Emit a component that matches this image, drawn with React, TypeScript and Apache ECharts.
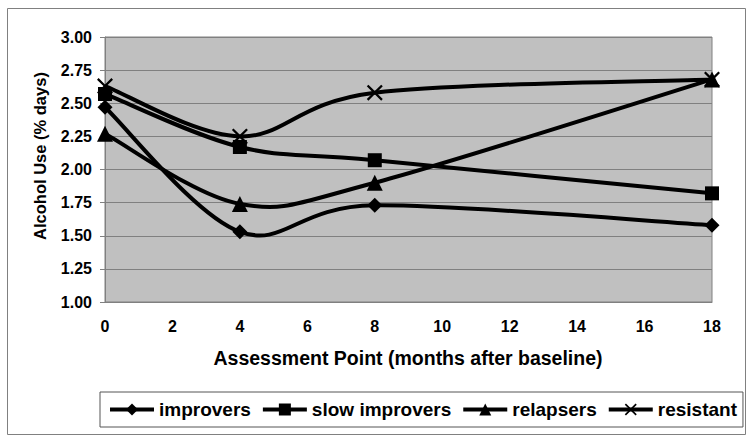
import React, { useEffect, useRef } from "react";
import * as echarts from "echarts";

const months = [0, 4, 8, 18];
const xTicks = [0, 2, 4, 6, 8, 10, 12, 14, 16, 18];
const seriesNames = ["improvers", "slow improvers", "relapsers", "resistant"];
const improvers = [2.47, 1.53, 1.73, 1.58];
const slowImprovers = [2.57, 2.17, 2.07, 1.82];
const relapsers = [2.27, 1.74, 1.9, 2.68];
const resistant = [2.63, 2.25, 2.58, 2.68];
const yTitle = "Alcohol Use (% days)";
const xTitle = "Assessment Point (months after baseline)";

const FONT = "'Liberation Sans', Arial, sans-serif";
const X_SYMBOL =
  "path://M0,1L1,0L5,4L9,0L10,1L6,5L10,9L9,10L5,6L1,10L0,9L4,5Z";

// Excel-like smoothed curve (Catmull-Rom style bezier) in pixel space
function smoothPath(pts: number[][]): string {
  const n = pts.length;
  let d = `M${pts[0][0]},${pts[0][1]}`;
  for (let i = 0; i < n - 1; i++) {
    const p0 = pts[Math.max(i - 1, 0)];
    const p1 = pts[i];
    const p2 = pts[i + 1];
    const p3 = pts[Math.min(i + 2, n - 1)];
    const c1x = p1[0] + (p2[0] - p0[0]) / 6;
    const c1y = p1[1] + (p2[1] - p0[1]) / 6;
    const c2x = p2[0] - (p3[0] - p1[0]) / 6;
    const c2y = p2[1] - (p3[1] - p1[1]) / 6;
    d += ` C${c1x},${c1y} ${c2x},${c2y} ${p2[0]},${p2[1]}`;
  }
  return d;
}

export default function App() {
  const ref = useRef<HTMLDivElement>(null);
  useEffect(() => {
    if (!ref.current) return;
    const chart = echarts.init(ref.current, null, { renderer: "svg" });
    const values = [improvers, slowImprovers, relapsers, resistant];
    const symbols = ["diamond", "rect", "triangle", X_SYMBOL];
    const sizes = [15, 14, 16, 16];

    const markerSeries = seriesNames.map((name, i) => ({
      name,
      type: "line",
      data: months.map((m, j) => [m, values[i][j]]),
      symbol: symbols[i],
      symbolSize: sizes[i],
      showSymbol: true,
      lineStyle: { color: "#000", width: 4, opacity: 0 },
      itemStyle: { color: "#000", borderColor: "#000", borderWidth: 0 },
      z: 10 + i,
    }));

    const curveSeries = seriesNames.map((name, i) => ({
      id: "curve-" + i,
      type: "custom",
      data: months.map((m, j) => [m, values[i][j]]),
      encode: { x: 0, y: 1 },
      z: 2 + i,
      silent: true,
      renderItem: (params: any, api: any) => {
        if (params.dataIndex !== 0) return { type: "group", children: [] };
        const pts = months.map((m, j) => api.coord([m, values[i][j]]));
        return {
          type: "path",
          shape: { pathData: smoothPath(pts) },
          style: { fill: "none", stroke: "#000", lineWidth: 4, lineJoin: "round" },
        };
      },
    }));

    chart.setOption({
      animation: false,
      backgroundColor: "#ffffff",
      textStyle: { fontFamily: FONT },
      grid: {
        left: 105,
        right: 38,
        top: 37,
        bottom: 134,
        show: true,
        backgroundColor: "#c0c0c0",
        borderColor: "#808080",
        borderWidth: 1,
      },
      xAxis: {
        type: "value",
        min: 0,
        max: 18,
        interval: 2,
        axisLine: { show: true, lineStyle: { color: "#808080", width: 1 } },
        axisTick: { show: false },
        splitLine: { show: false },
        axisLabel: {
          color: "#000",
          fontWeight: "bold",
          fontSize: 16,
          fontFamily: FONT,
          margin: 16,
          customValues: xTicks,
        },
      },
      yAxis: {
        type: "value",
        min: 1,
        max: 3,
        interval: 0.25,
        axisLine: { show: true, lineStyle: { color: "#808080", width: 1 } },
        axisTick: { show: true, length: 5, lineStyle: { color: "#808080" } },
        splitLine: { show: true, lineStyle: { color: "#808080", width: 1 } },
        axisLabel: {
          color: "#000",
          fontWeight: "bold",
          fontSize: 16,
          fontFamily: FONT,
          margin: 13,
          formatter: (v: number) => v.toFixed(2),
        },
      },
      legend: {
        left: 100,
        top: 392,
        orient: "horizontal",
        borderColor: "#555",
        borderWidth: 1,
        padding: [8, 6, 8, 8],
        itemWidth: 44,
        itemHeight: 15,
        itemGap: 10,
        lineStyle: { color: "#000", width: 4, opacity: 1 },
        textStyle: {
          color: "#000",
          fontWeight: "bold",
          fontSize: 19,
          fontFamily: FONT,
        },
        data: seriesNames.map((name) => ({
          name,
          lineStyle: { color: "#000", width: 4, opacity: 1 },
        })),
      },
      graphic: [
        {
          type: "rect",
          left: 5,
          top: 6,
          shape: { x: 0, y: 0, width: 738, height: 426 },
          style: { fill: "none", stroke: "#808080", lineWidth: 1 },
          z: -10,
          silent: true,
        },
        {
          type: "text",
          x: 40,
          y: 156,
          rotation: Math.PI / 2,
          style: {
            text: yTitle,
            fill: "#000",
            font: `bold 16.5px ${FONT}`,
            align: "center",
            verticalAlign: "middle",
          },
        },
        {
          type: "text",
          x: 408,
          y: 358,
          style: {
            text: xTitle,
            fill: "#000",
            font: `bold 19.5px ${FONT}`,
            align: "center",
            verticalAlign: "middle",
          },
        },
      ],
      series: [...markerSeries, ...curveSeries],
    });
    return () => chart.dispose();
  }, []);
  return (
    <div
      ref={ref}
      style={{ position: "fixed", left: 0, top: 0, width: 750, height: 436 }}
    />
  );
}
